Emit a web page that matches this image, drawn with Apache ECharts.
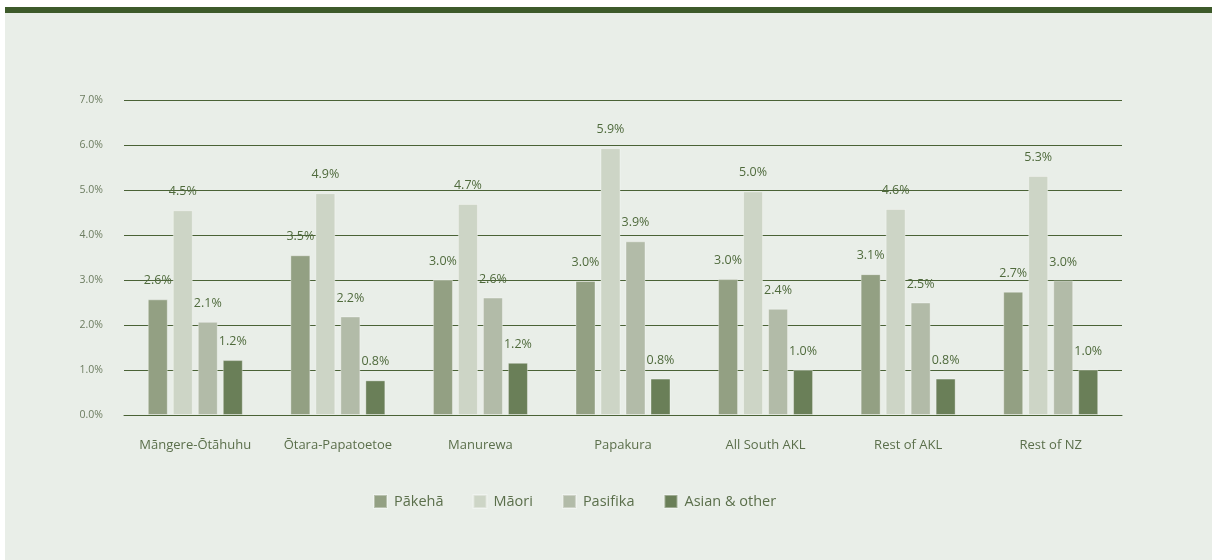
<!DOCTYPE html>
<html>
<head>
<meta charset="utf-8">
<script src="https://cdn.jsdelivr.net/npm/echarts@6/dist/echarts.min.js"></script>
<style>
  html, body { margin: 0; padding: 0; background: #ffffff; }
  #wrap {
    position: absolute; left: 5px; top: 7px; right: 0; bottom: 0;
    background: #e9eee8; border-top: 6px solid #3d5a2a;
  }
  #chart { position: absolute; left: -5px; top: -13px; width: 1212px; height: 560px; }
</style>
</head>
<body>
<div id="wrap"><div id="chart"></div></div>
<script>
  // 地区
  const regions = ["Māngere-Ōtāhuhu", "Ōtara-Papatoetoe", "Manurewa", "Papakura",
                   "All South AKL", "Rest of AKL", "Rest of NZ"];
  const pakeha  = [2.57, 3.55, 3.01, 2.98, 3.02, 3.13, 2.74];
  const maori   = [4.55, 4.93, 4.69, 5.93, 4.97, 4.58, 5.31];
  const pasifika = [2.07, 2.19, 2.61, 3.86, 2.36, 2.50, 2.99];
  const asian   = [1.22, 0.77, 1.16, 0.81, 1.00, 0.81, 1.01];
  const seriesNames = ["Pākehā", "Māori", "Pasifika", "Asian & other"];
  const colors = ["#93a083", "#cdd5c6", "#b2bba8", "#6a7f58"];

  const font = "'Open Sans', 'Noto Sans', sans-serif";

  const mkSeries = (name, data) => ({
    name: name,
    type: "bar",
    data: data,
    barWidth: 20,
    barGap: "25%",
    itemStyle: { borderColor: "rgba(255,255,255,0.35)", borderWidth: 1 },
    label: {
      show: true,
      position: "top",
      distance: 12,
      color: "#4f6a3c",
      fontFamily: font,
      fontSize: 12.5,
      formatter: (p) => p.value.toFixed(1) + "%",
    },
  });

  const option = {
    animation: false,
    color: colors,
    textStyle: { fontFamily: font },
    grid: { left: 124, right: 90, top: 100, bottom: 145 },
    legend: {
      bottom: 51,
      left: 373,
      padding: 0,
      itemWidth: 13,
      itemHeight: 13,
      itemGap: 29,
      icon: "rect",
      textStyle: { color: "#5b6f4b", fontSize: 14.5, fontFamily: font, padding: [0, 0, 0, 2] },
      data: seriesNames,
    },
    xAxis: {
      type: "category",
      data: regions,
      axisTick: { show: false },
      axisLine: { lineStyle: { color: "#4a6236" } },
      axisLabel: { color: "#5b6f4b", fontSize: 13, margin: 24, interval: 0, fontFamily: font },
    },
    yAxis: {
      type: "value",
      min: 0,
      max: 7,
      interval: 1,
      axisLabel: {
        color: "#6c7c60",
        fontSize: 10.5,
        margin: 21,
        fontFamily: font,
        formatter: (v) => v.toFixed(1) + "%",
      },
      splitLine: { lineStyle: { color: "#4a6236", width: 1 } },
    },
    series: [
      mkSeries(seriesNames[0], pakeha),
      mkSeries(seriesNames[1], maori),
      mkSeries(seriesNames[2], pasifika),
      mkSeries(seriesNames[3], asian),
    ],
  };

  const chart = echarts.init(document.getElementById("chart"));
  chart.setOption(option);
</script>
</body>
</html>
